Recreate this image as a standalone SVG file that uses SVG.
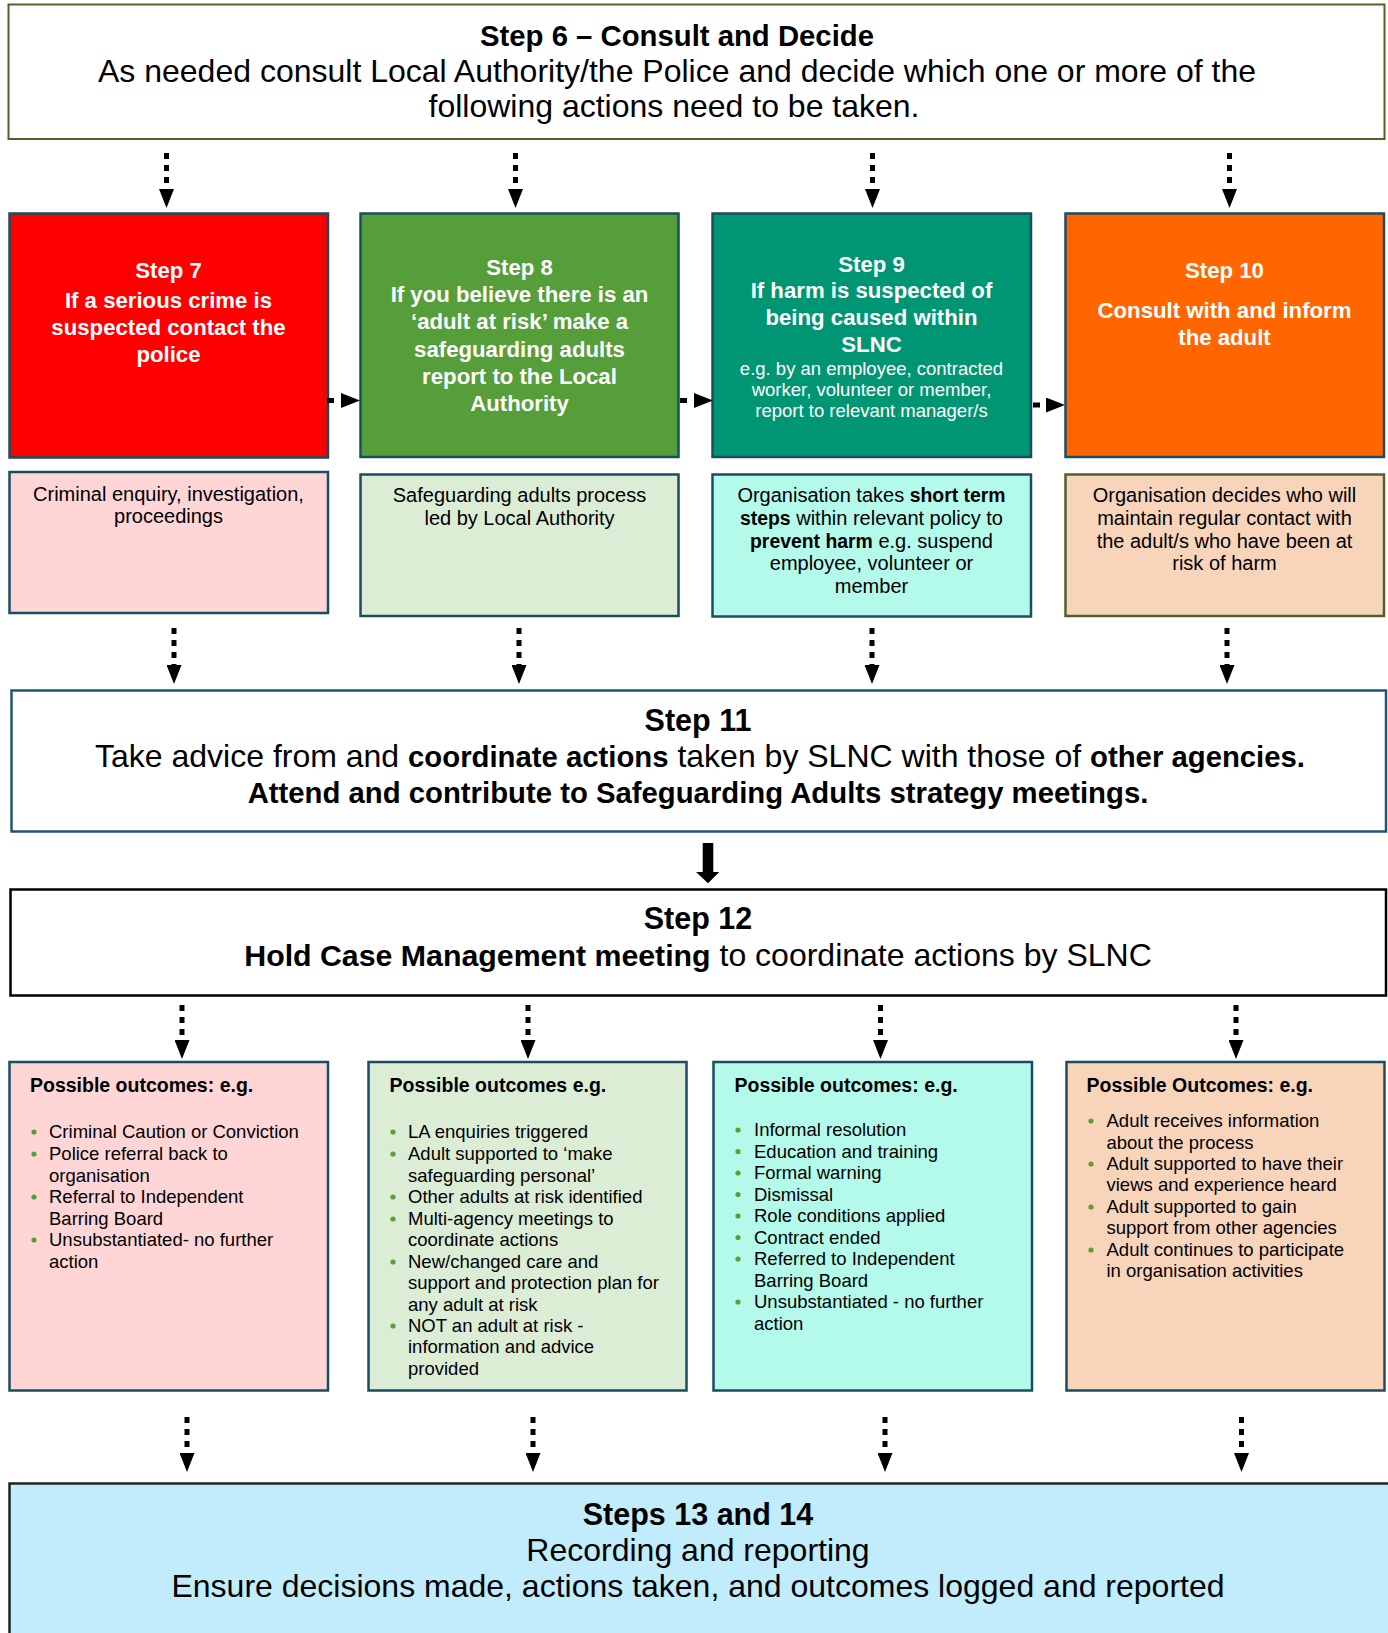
<svg xmlns="http://www.w3.org/2000/svg" width="1388" height="1633" viewBox="0 0 1388 1633">
<style>
text{font-family:"Liberation Sans",Arial,sans-serif;fill:#000}
.c{text-anchor:middle}
.b{font-weight:bold}
.big{font-size:30.5px}
.reg{font-size:32px}
.bb{font-size:29.3px;font-weight:bold}
.hd{font-size:22.2px;font-weight:bold;fill:#fff;text-anchor:middle}
.sm{font-size:18.5px;fill:#fff;text-anchor:middle}
.mid{font-size:20px;text-anchor:middle}
.mb{font-weight:bold;font-size:19.4px}
.ot{font-size:19.5px;font-weight:bold}
.li{font-size:18.5px}
.box{stroke:#1b4d62;stroke-width:2.5}
.dash{stroke:#000;stroke-width:5;fill:none}
.bul{fill:#5a9e3c}
</style>
<defs>
<marker id="ah" markerUnits="userSpaceOnUse" markerWidth="19" markerHeight="15" viewBox="0 0 19 15" refX="0" refY="7.5" orient="auto">
<path d="M0,0 L19,7.5 L0,15 Z" fill="#000"/>
</marker>
</defs>

<g id="step6">
<rect x="8.5" y="4.5" width="1376" height="134.5" fill="#fff" stroke="#4f6228" stroke-width="2"/>
<text class="c bb" x="677" y="46">Step 6 – Consult and Decide</text>
<text class="c reg" x="677" y="82">As needed consult Local Authority/the Police and decide which one or more of the</text>
<text class="c reg" x="674" y="117">following actions need to be taken.</text>
</g>

<g id="step7">
<rect class="box" x="9.5" y="213.5" width="318.5" height="244" fill="#ff0000"/>
<text class="hd" x="168.5" y="278">Step 7</text>
<text class="hd" x="168.5" y="308">If a serious crime is</text>
<text class="hd" x="168.5" y="335">suspected contact the</text>
<text class="hd" x="168.5" y="362">police</text>
</g>

<g id="step8">
<rect class="box" x="360.5" y="213.5" width="318" height="243.5" fill="#559e3a"/>
<text class="hd" x="519.5" y="275">Step 8</text>
<text class="hd" x="519.5" y="302">If you believe there is an</text>
<text class="hd" x="519.5" y="329">‘adult at risk’ make a</text>
<text class="hd" x="519.5" y="357">safeguarding adults</text>
<text class="hd" x="519.5" y="384">report to the Local</text>
<text class="hd" x="519.5" y="411">Authority</text>
</g>

<g id="step9">
<rect class="box" x="712.5" y="213.5" width="318.5" height="243.5" fill="#009673"/>
<text class="hd" x="871.5" y="272">Step 9</text>
<text class="hd" x="871.5" y="298">If harm is suspected of</text>
<text class="hd" x="871.5" y="325">being caused within</text>
<text class="hd" x="871.5" y="352">SLNC</text>
<text class="sm" x="871.5" y="375">e.g. by an employee, contracted</text>
<text class="sm" x="871.5" y="396">worker, volunteer or member,</text>
<text class="sm" x="871.5" y="417">report to relevant manager/s</text>
</g>

<g id="step10">
<rect class="box" x="1065.5" y="213.5" width="318.5" height="243.5" fill="#ff6600"/>
<text class="hd" x="1224.5" y="278">Step 10</text>
<text class="hd" x="1224.5" y="318">Consult with and inform</text>
<text class="hd" x="1224.5" y="345">the adult</text>
</g>

<g id="step7-result">
<rect class="box" x="9.5" y="472" width="318.5" height="141" fill="#ffd5d5"/>
<text class="mid" x="168.5" y="501">Criminal enquiry, investigation,</text>
<text class="mid" x="168.5" y="523">proceedings</text>
</g>

<g id="step8-result">
<rect class="box" x="360.5" y="474.5" width="318" height="141.5" fill="#dcedd5"/>
<text class="mid" x="519.5" y="502">Safeguarding adults process</text>
<text class="mid" x="519.5" y="525">led by Local Authority</text>
</g>

<g id="step9-result">
<rect class="box" x="712.5" y="474.5" width="318.5" height="142" fill="#b3faeb"/>
<text class="mid" x="871.5" y="502">Organisation takes <tspan class="mb">short term</tspan></text>
<text class="mid" x="871.5" y="525"><tspan class="mb">steps</tspan> within relevant policy to</text>
<text class="mid" x="871.5" y="548"><tspan class="mb">prevent harm</tspan> e.g. suspend</text>
<text class="mid" x="871.5" y="570">employee, volunteer or</text>
<text class="mid" x="871.5" y="593">member</text>
</g>

<g id="step10-result">
<rect x="1065.5" y="474.5" width="318.5" height="141.5" fill="#f8d4ba" stroke="#4f6228" stroke-width="2.5"/>
<text class="mid" x="1224.5" y="502">Organisation decides who will</text>
<text class="mid" x="1224.5" y="525">maintain regular contact with</text>
<text class="mid" x="1224.5" y="548">the adult/s who have been at</text>
<text class="mid" x="1224.5" y="570">risk of harm</text>
</g>

<g id="step11">
<rect x="11.5" y="690.5" width="1374.5" height="141" fill="#fff" stroke="#1f5673" stroke-width="2.5"/>
<text class="c b big" x="698" y="731">Step 11</text>
<text class="c reg" x="700" y="767">Take advice from and <tspan class="bb">coordinate actions</tspan> taken by SLNC with those of <tspan class="bb">other agencies.</tspan></text>
<text class="c bb" x="698" y="803">Attend and contribute to Safeguarding Adults strategy meetings.</text>
</g>

<g id="step12">
<rect x="10.5" y="889.5" width="1375.5" height="106" fill="#fff" stroke="#000" stroke-width="2.5"/>
<text class="c b big" x="698" y="929">Step 12</text>
<text class="c reg" x="698" y="966"><tspan class="b" font-size="30.3px">Hold Case Management meeting</tspan> to coordinate actions by SLNC</text>
</g>

<g id="outcomes-police">
<rect class="box" x="9.5" y="1062" width="318.5" height="328.5" fill="#ffd5d5"/>
<text class="ot" x="30" y="1092">Possible outcomes: e.g.</text>
<g class="bul"><circle cx="34" cy="1132" r="2.6"/><circle cx="34" cy="1154" r="2.6"/><circle cx="34" cy="1197" r="2.6"/><circle cx="34" cy="1240" r="2.6"/></g>
<text class="li" x="49" y="1138">Criminal Caution or Conviction</text>
<text class="li" x="49" y="1160">Police referral back to</text>
<text class="li" x="49" y="1181.5">organisation</text>
<text class="li" x="49" y="1203">Referral to Independent</text>
<text class="li" x="49" y="1224.5">Barring Board</text>
<text class="li" x="49" y="1246">Unsubstantiated- no further</text>
<text class="li" x="49" y="1267.5">action</text>
</g>

<g id="outcomes-la">
<rect class="box" x="368.5" y="1062" width="318" height="328.5" fill="#dcedd5"/>
<text class="ot" x="389.5" y="1092">Possible outcomes e.g.</text>
<g class="bul"><circle cx="393" cy="1132" r="2.6"/><circle cx="393" cy="1154" r="2.6"/><circle cx="393" cy="1197" r="2.6"/><circle cx="393" cy="1219" r="2.6"/><circle cx="393" cy="1262" r="2.6"/><circle cx="393" cy="1326" r="2.6"/></g>
<text class="li" x="408" y="1138">LA enquiries triggered</text>
<text class="li" x="408" y="1160">Adult supported to ‘make</text>
<text class="li" x="408" y="1181.5">safeguarding personal’</text>
<text class="li" x="408" y="1203">Other adults at risk identified</text>
<text class="li" x="408" y="1224.5">Multi-agency meetings to</text>
<text class="li" x="408" y="1246">coordinate actions</text>
<text class="li" x="408" y="1267.5">New/changed care and</text>
<text class="li" x="408" y="1289">support and protection plan for</text>
<text class="li" x="408" y="1310.5">any adult at risk</text>
<text class="li" x="408" y="1332">NOT an adult at risk -</text>
<text class="li" x="408" y="1353">information and advice</text>
<text class="li" x="408" y="1374.5">provided</text>
</g>

<g id="outcomes-org">
<rect class="box" x="713.5" y="1062" width="318.5" height="328.5" fill="#b3faeb"/>
<text class="ot" x="734.5" y="1092">Possible outcomes: e.g.</text>
<g class="bul"><circle cx="738" cy="1130" r="2.6"/><circle cx="738" cy="1151.5" r="2.6"/><circle cx="738" cy="1173" r="2.6"/><circle cx="738" cy="1194.5" r="2.6"/><circle cx="738" cy="1216" r="2.6"/><circle cx="738" cy="1237.5" r="2.6"/><circle cx="738" cy="1259" r="2.6"/><circle cx="738" cy="1302" r="2.6"/></g>
<text class="li" x="754" y="1136">Informal resolution</text>
<text class="li" x="754" y="1157.5">Education and training</text>
<text class="li" x="754" y="1179">Formal warning</text>
<text class="li" x="754" y="1200.5">Dismissal</text>
<text class="li" x="754" y="1222">Role conditions applied</text>
<text class="li" x="754" y="1243.5">Contract ended</text>
<text class="li" x="754" y="1265">Referred to Independent</text>
<text class="li" x="754" y="1286.5">Barring Board</text>
<text class="li" x="754" y="1308">Unsubstantiated - no further</text>
<text class="li" x="754" y="1329.5">action</text>
</g>

<g id="outcomes-adult">
<rect class="box" x="1066.5" y="1062" width="318" height="328.5" fill="#f8d4ba"/>
<text class="ot" x="1086.5" y="1092">Possible Outcomes: e.g.</text>
<g class="bul"><circle cx="1091" cy="1121" r="2.6"/><circle cx="1091" cy="1164" r="2.6"/><circle cx="1091" cy="1207" r="2.6"/><circle cx="1091" cy="1250" r="2.6"/></g>
<text class="li" x="1106.5" y="1127">Adult receives information</text>
<text class="li" x="1106.5" y="1148.5">about the process</text>
<text class="li" x="1106.5" y="1170">Adult supported to have their</text>
<text class="li" x="1106.5" y="1191">views and experience heard</text>
<text class="li" x="1106.5" y="1212.5">Adult supported to gain</text>
<text class="li" x="1106.5" y="1234">support from other agencies</text>
<text class="li" x="1106.5" y="1255.5">Adult continues to participate</text>
<text class="li" x="1106.5" y="1277">in organisation activities</text>
</g>

<g id="steps13-14">
<rect x="9.5" y="1483.5" width="1380" height="160" fill="#c1ecfb" stroke="#222" stroke-width="2.5"/>
<text class="c b big" x="698" y="1525">Steps 13 and 14</text>
<text class="c reg" x="698" y="1561">Recording and reporting</text>
<text class="c reg" x="698" y="1597">Ensure decisions made, actions taken, and outcomes logged and reported</text>
</g>

<g id="connectors">
<g class="dash" stroke-dasharray="6 6" marker-end="url(#ah)">
<path d="M166.5,153V189"/>
<path d="M515.5,153V189"/>
<path d="M872.5,153V189"/>
<path d="M1229.5,153V189"/>
<path d="M174,628V665"/>
<path d="M519,628V665"/>
<path d="M872,628V665"/>
<path d="M1227,628V665"/>
<path d="M182,1005V1040"/>
<path d="M528,1005V1040"/>
<path d="M880.5,1005V1040"/>
<path d="M1236,1005V1040"/>
<path d="M187,1417V1453"/>
<path d="M533,1417V1453"/>
<path d="M885,1417V1453"/>
<path d="M1241.5,1417V1453"/>
</g>
<g class="dash" stroke-dasharray="7 7" marker-end="url(#ah)">
<path d="M327,400.5H341"/>
<path d="M680,400.5H694"/>
<path d="M1033,405H1046"/>
</g>
<path d="M702.7,843H713.3V872H719.3L708,883.3L696,872H702.7Z" fill="#000"/>
</g>
</svg>
